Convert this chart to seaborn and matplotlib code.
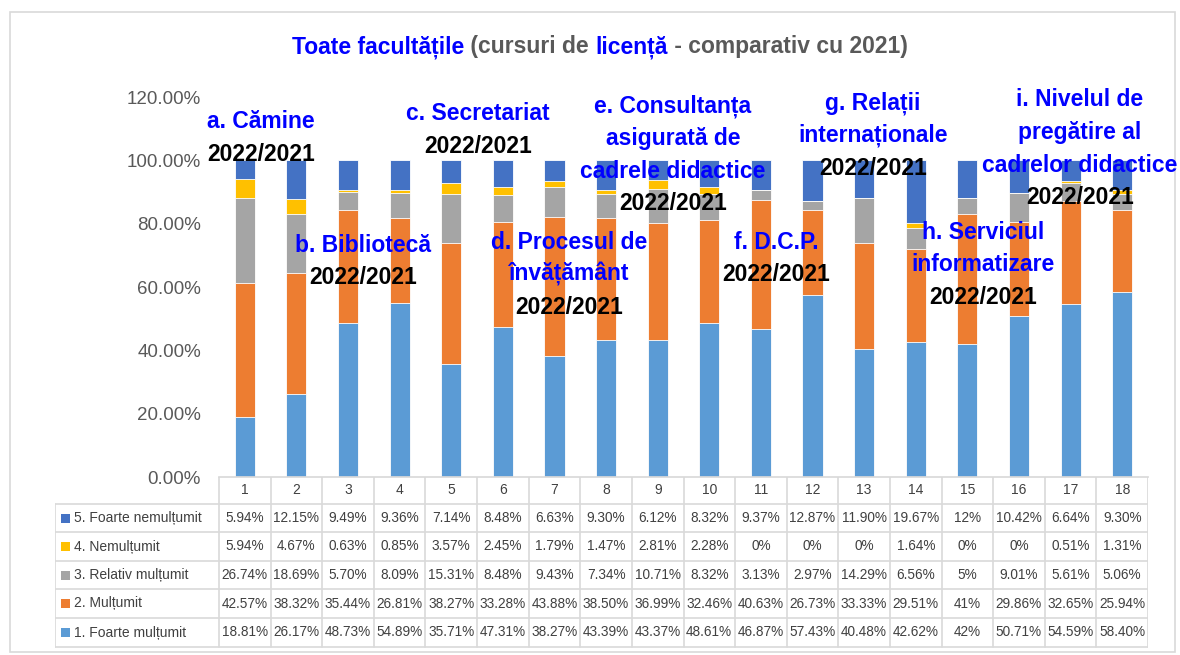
import matplotlib
matplotlib.use("Agg")
import matplotlib.pyplot as plt
from matplotlib.patches import Rectangle
import seaborn as sns
import pandas as pd
import numpy as np

categories = [str(i) for i in range(1, 19)]
series_names = ["5. Foarte nemulțumit", "4. Nemulțumit", "3. Relativ mulțumit",
                "2. Mulțumit", "1. Foarte mulțumit"]
foarte_nemultumit = [5.94, 12.15, 9.49, 9.36, 7.14, 8.48, 6.63, 9.30, 6.12, 8.32, 9.37, 12.87, 11.90, 19.67, 12, 10.42, 6.64, 9.30]
nemultumit = [5.94, 4.67, 0.63, 0.85, 3.57, 2.45, 1.79, 1.47, 2.81, 2.28, 0, 0, 0, 1.64, 0, 0, 0.51, 1.31]
relativ_multumit = [26.74, 18.69, 5.70, 8.09, 15.31, 8.48, 9.43, 7.34, 10.71, 8.32, 3.13, 2.97, 14.29, 6.56, 5, 9.01, 5.61, 5.06]
multumit = [42.57, 38.32, 35.44, 26.81, 38.27, 33.28, 43.88, 38.50, 36.99, 32.46, 40.63, 26.73, 33.33, 29.51, 41, 29.86, 32.65, 25.94]
foarte_multumit = [18.81, 26.17, 48.73, 54.89, 35.71, 47.31, 38.27, 43.39, 43.37, 48.61, 46.87, 57.43, 40.48, 42.62, 42, 50.71, 54.59, 58.40]
table_labels = [
    ["5.94%", "12.15%", "9.49%", "9.36%", "7.14%", "8.48%", "6.63%", "9.30%", "6.12%", "8.32%", "9.37%", "12.87%", "11.90%", "19.67%", "12%", "10.42%", "6.64%", "9.30%"],
    ["5.94%", "4.67%", "0.63%", "0.85%", "3.57%", "2.45%", "1.79%", "1.47%", "2.81%", "2.28%", "0%", "0%", "0%", "1.64%", "0%", "0%", "0.51%", "1.31%"],
    ["26.74%", "18.69%", "5.70%", "8.09%", "15.31%", "8.48%", "9.43%", "7.34%", "10.71%", "8.32%", "3.13%", "2.97%", "14.29%", "6.56%", "5%", "9.01%", "5.61%", "5.06%"],
    ["42.57%", "38.32%", "35.44%", "26.81%", "38.27%", "33.28%", "43.88%", "38.50%", "36.99%", "32.46%", "40.63%", "26.73%", "33.33%", "29.51%", "41%", "29.86%", "32.65%", "25.94%"],
    ["18.81%", "26.17%", "48.73%", "54.89%", "35.71%", "47.31%", "38.27%", "43.39%", "43.37%", "48.61%", "46.87%", "57.43%", "40.48%", "42.62%", "42%", "50.71%", "54.59%", "58.40%"],
]
colors = ["#4472C4", "#FFC000", "#A5A5A5", "#ED7D31", "#5B9BD5"]
ytick_values = [0, 0.2, 0.4, 0.6, 0.8, 1.0, 1.2]
ytick_labels = ["0.00%", "20.00%", "40.00%", "60.00%", "80.00%", "100.00%", "120.00%"]

annotations = [
    # (x, y_first_line, blue lines)
    (261, 122, ["a. Cămine"]),
    (363, 245, ["b. Bibliotecă"]),
    (478, 114, ["c. Secretariat"]),
    (569, 242, ["d. Procesul de", "învățământ"]),
    (673, 106, ["e. Consultanța", "asigurată de", "cadrele didactice"]),
    (776, 242, ["f. D.C.P."]),
    (873, 103, ["g. Relații", "internaționale"]),
    (983, 232, ["h. Serviciul", "informatizare"]),
    (1080, 100, ["i. Nivelul de", "pregătire al", "cadrelor didactice"]),
]
year_label = "2022/2021"

sns.set_theme(style="white")
FAM = ["Liberation Sans Narrow", "Liberation Sans", "DejaVu Sans"]
plt.rcParams["font.family"] = FAM

W, H = 1180, 655
fig = plt.figure(figsize=(W / 100, H / 100), dpi=100)

def fx(x):
    return x / W

def fy(y):
    return 1 - y / H

# outer border
fig.patches.append(Rectangle((fx(10), fy(652)), fx(1175) - fx(10), fy(12) - fy(652),
                             transform=fig.transFigure, fill=False, edgecolor="#D9D9D9", lw=1.2))

ax = fig.add_axes([fx(219), fy(477), fx(1148) - fx(219), fy(97) - fy(477)])

df = pd.DataFrame({"cat": categories})
layers = [foarte_multumit, multumit, relativ_multumit, nemultumit, foarte_nemultumit]
layer_colors = colors[::-1]
cum = np.cumsum(np.array(layers), axis=0) / 100.0
for i in range(len(layers) - 1, -1, -1):
    df["v"] = cum[i]
    sns.barplot(data=df, x="cat", y="v", color=layer_colors[i], width=0.39,
                saturation=1, edgecolor="white", linewidth=0.6, ax=ax, errorbar=None)

ax.set_xlim(-0.5, 17.5)
ax.set_ylim(0, 1.2)
ax.set_yticks(ytick_values)
ax.set_yticklabels(ytick_labels, fontsize=13.5, color="#595959")
ax.tick_params(axis="y", length=0, pad=13)
ax.set_xticks([])
ax.set_xlabel("")
ax.set_ylabel("")
for s in ["top", "right", "left"]:
    ax.spines[s].set_visible(False)
ax.spines["bottom"].set_color("#D9D9D9")

# data table
tab = fig.add_axes([fx(55), fy(648), fx(1148) - fx(55), fy(477) - fy(648)])
tab.set_xlim(55, 1148)
tab.set_ylim(648, 477)
tab.axis("off")
grid_c = "#D9D9D9"
col_left = 219
col_w = (1148 - 219) / 18
row_edges = [477, 504, 532, 561, 589, 618, 647]
for j in range(19):
    x = col_left + j * col_w
    tab.plot([x, x], [477, 647], color=grid_c, lw=1.2)
tab.plot([55, 55], [504, 647], color=grid_c, lw=1.2)
for y in row_edges[1:]:
    tab.plot([55, 1148], [y, y], color=grid_c, lw=1.2)
for j, c in enumerate(categories):
    tab.text(col_left + (j + 0.5) * col_w, (477 + 504) / 2, c, ha="center", va="center",
             fontsize=10, color="#404040")
for r in range(5):
    yc = (row_edges[r + 1] + row_edges[r + 2]) / 2
    tab.add_patch(Rectangle((61, yc - 4.5), 9, 9, color=colors[r], lw=0))
    tab.text(74, yc, series_names[r], ha="left", va="center", fontsize=10, color="#404040")
    for j in range(18):
        tab.text(col_left + (j + 0.5) * col_w, yc, table_labels[r][j], ha="center",
                 va="center", fontsize=9.8, color="#404040")

# title
BLUE = "#0000FF"
GRAY = "#595959"
title_parts = [("Toate facultățile", BLUE), (" (cursuri de ", GRAY), ("licență", BLUE),
               (" - comparativ cu 2021)", GRAY)]
fig.canvas.draw()
renderer = fig.canvas.get_renderer()
widths = []
objs = []
for t, c in title_parts:
    o = fig.text(0, fy(47), t, color=c, fontsize=16.5, fontweight="bold", va="center", ha="left")
    objs.append(o)
    widths.append(o.get_window_extent(renderer).width)
total = sum(widths)
x0 = 600 - total / 2
for o, w in zip(objs, widths):
    o.set_x(fx(x0))
    x0 += w

# overlay annotations
LINE = 32.5
for x, y, lines in annotations:
    for k, ln in enumerate(lines):
        fig.text(fx(x), fy(y + k * LINE), ln, color=BLUE, fontsize=16.5, fontweight="bold",
                 ha="center", va="center")
    fig.text(fx(x), fy(y + len(lines) * LINE), year_label, color="black", fontsize=16.5,
             fontweight="bold", ha="center", va="center")

fig.savefig("out.png", dpi=100)
